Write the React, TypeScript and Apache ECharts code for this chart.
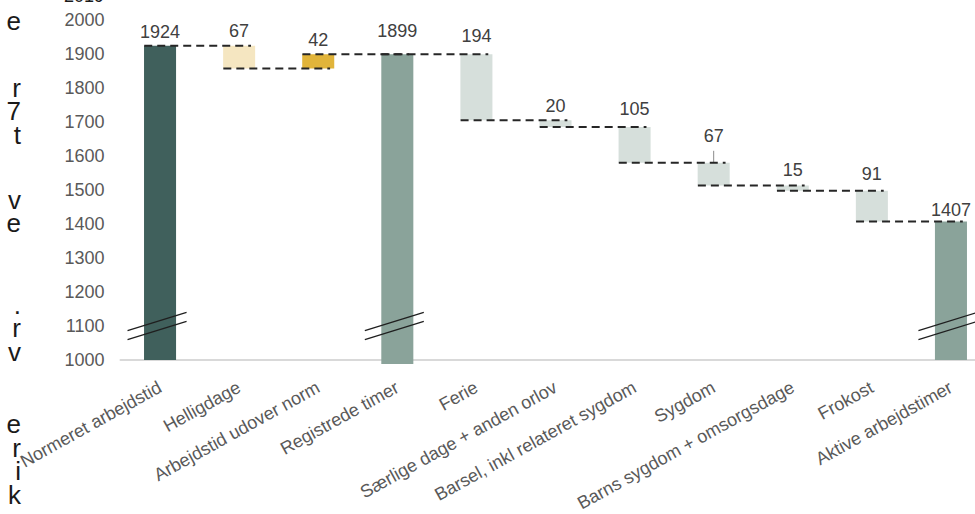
import React, { useEffect, useRef } from 'react';
import * as echarts from 'echarts';

// ---- data ----
const categories = [
  'Normeret arbejdstid',
  'Helligdage',
  'Arbejdstid udover norm',
  'Registrede timer',
  'Ferie',
  'Særlige dage + anden orlov',
  'Barsel, inkl relateret sygdom',
  'Sygdom',
  'Barns sygdom + omsorgsdage',
  'Frokost',
  'Aktive arbejdstimer',
];
const amounts = [1924, 67, 42, 1899, 194, 20, 105, 67, 15, 91, 1407];
const kinds = ['total', 'down', 'up', 'total', 'down', 'down', 'down', 'down', 'down', 'down', 'total'];
const totalBottoms = [1000, 988, 1000];
const yMin = 1000;
const yMax = 2000;
const yStep = 100;
const breakValue = 1100;
const edgeLetters = ['e', 'r', '7', 't', 'v', 'e', '.', 'r', 'v', 'e', 'r', 'i', 'k'];
const topFragment = '2019';

// ---- styles ----
const FONT = '"Liberation Sans", Arial, Helvetica, sans-serif';
const FS = 18;
const barColors = [
  '#40605C', '#F5E6C1', '#E1B43A', '#8AA39A', '#D6DFDB', '#D6DFDB',
  '#D6DFDB', '#D6DFDB', '#D6DFDB', '#D6DFDB', '#8AA39A',
];
const labelLift = [14, 15, 14, 23, 18, 14, 18, 27, 16, 17, 12];
const edgeLetterY = [21, 88, 111, 135, 200, 223, 305, 328, 352, 424, 448, 471, 495];

function buildSeriesData() {
  let running = 0;
  let t = 0;
  const bars: number[][] = [];
  const levels: number[] = [];
  const totalsIdx: number[] = [];
  categories.forEach((_, i) => {
    const a = amounts[i];
    const k = kinds[i];
    let low = 0;
    let high = 0;
    if (k === 'total') {
      low = totalBottoms[t++];
      high = a;
      running = a;
      totalsIdx.push(i);
    } else if (k === 'down') {
      high = running;
      low = running - a;
      running = low;
    } else {
      low = running;
      high = running + a;
      running = high;
    }
    bars.push([i, low, high, a]);
    levels.push(running);
  });
  const connectors = levels.slice(0, levels.length - 1).map((lv, i) => [i, lv]);
  const breaks = totalsIdx.map((i) => [i, breakValue]);
  return { bars, connectors, breaks };
}

export default function App() {
  const ref = useRef<HTMLDivElement>(null);
  useEffect(() => {
    document.documentElement.style.overflow = 'hidden';
    document.body.style.overflow = 'hidden';
    if (!ref.current) return;
    const chart = echarts.init(ref.current, undefined, { renderer: 'svg' });
    const { bars, connectors, breaks } = buildSeriesData();

    const graphicEls: any[] = edgeLetters.map((ch, i) => ({
      type: 'text',
      x: 21,
      y: edgeLetterY[i],
      silent: true,
      style: {
        text: ch,
        align: 'right',
        verticalAlign: 'middle',
        fontSize: 26,
        fontFamily: FONT,
        fill: '#1a1a1a',
      },
    }));
    graphicEls.push({
      type: 'text',
      x: 104,
      y: -4,
      silent: true,
      style: {
        text: topFragment,
        align: 'right',
        verticalAlign: 'middle',
        fontSize: FS,
        fontFamily: FONT,
        fill: '#1a1a1a',
      },
    });

    chart.setOption({
      animation: false,
      backgroundColor: '#ffffff',
      graphic: graphicEls,
      grid: {
        left: 120.5,
        right: -15.5,
        top: 20,
        bottom: 154,
        containLabel: false,
        outerBoundsMode: 'none',
      },
      xAxis: {
        type: 'category',
        data: categories,
        axisLine: { show: true, lineStyle: { color: '#D9D9D9', width: 2 } },
        axisTick: { show: false },
        axisLabel: {
          interval: 0,
          rotate: 29,
          margin: 26,
          fontSize: FS,
          fontFamily: FONT,
          color: '#595959',
        },
        splitLine: { show: false },
      },
      yAxis: {
        type: 'value',
        min: yMin,
        max: yMax,
        interval: yStep,
        axisLine: { show: false },
        axisTick: { show: false },
        splitLine: { show: false },
        axisLabel: {
          margin: 16,
          fontSize: FS,
          fontFamily: FONT,
          color: '#595959',
          formatter: (v: number) => String(v),
        },
      },
      series: [
        {
          type: 'custom',
          name: 'bars',
          clip: false,
          z: 2,
          data: bars,
          renderItem: (params: any, api: any) => {
            const i = api.value(0);
            const low = api.value(1);
            const high = api.value(2);
            const amt = api.value(3);
            const top = api.coord([i, high]);
            const bot = api.coord([i, low]);
            const bw = api.size([1, 0])[0] * 0.405;
            const lift = labelLift[i];
            const children: any[] = [
              {
                type: 'rect',
                shape: { x: top[0] - bw / 2, y: top[1], width: bw, height: bot[1] - top[1] },
                style: { fill: barColors[i] },
              },
              {
                type: 'text',
                style: {
                  text: String(amt),
                  x: top[0],
                  y: top[1] - lift,
                  align: 'center',
                  verticalAlign: 'middle',
                  fontSize: FS,
                  fontFamily: FONT,
                  fill: '#404040',
                },
              },
            ];
            if (lift > 25) {
              children.push({
                type: 'line',
                shape: { x1: top[0], y1: top[1] - 12, x2: top[0], y2: top[1] },
                style: { stroke: '#8c8c8c', lineWidth: 1 },
              });
            }
            return { type: 'group', children };
          },
        },
        {
          type: 'custom',
          name: 'connectors',
          clip: false,
          z: 3,
          data: connectors,
          renderItem: (params: any, api: any) => {
            const i = api.value(0);
            const lv = api.value(1);
            const band = api.size([1, 0])[0];
            const a = api.coord([i, lv]);
            const b = api.coord([i + 1, lv]);
            return {
              type: 'line',
              shape: { x1: a[0] - band * 0.2, y1: a[1], x2: b[0] + band * 0.15, y2: b[1] },
              style: { stroke: '#262626', lineWidth: 2, lineDash: [8, 5] },
            };
          },
        },
        {
          type: 'custom',
          name: 'breaks',
          clip: false,
          z: 4,
          data: breaks,
          renderItem: (params: any, api: any) => {
            const i = api.value(0);
            const v = api.value(1);
            const c = api.coord([i, v]);
            const cx = c[0] - 3;
            const cy = c[1];
            const mk = (dy: number) => ({
              type: 'line',
              shape: { x1: cx - 29.5, y1: cy + dy + 9.2, x2: cx + 29.5, y2: cy + dy - 9.2 },
              style: { stroke: '#1f1f1f', lineWidth: 1.3 },
            });
            return { type: 'group', children: [mk(-4.5), mk(4.5)] };
          },
        },
      ],
    });
    return () => {
      chart.dispose();
    };
  }, []);
  return (
    <div
      ref={ref}
      style={{ position: 'absolute', left: 0, top: 0, width: 975, height: 514, background: '#fff' }}
    />
  );
}
